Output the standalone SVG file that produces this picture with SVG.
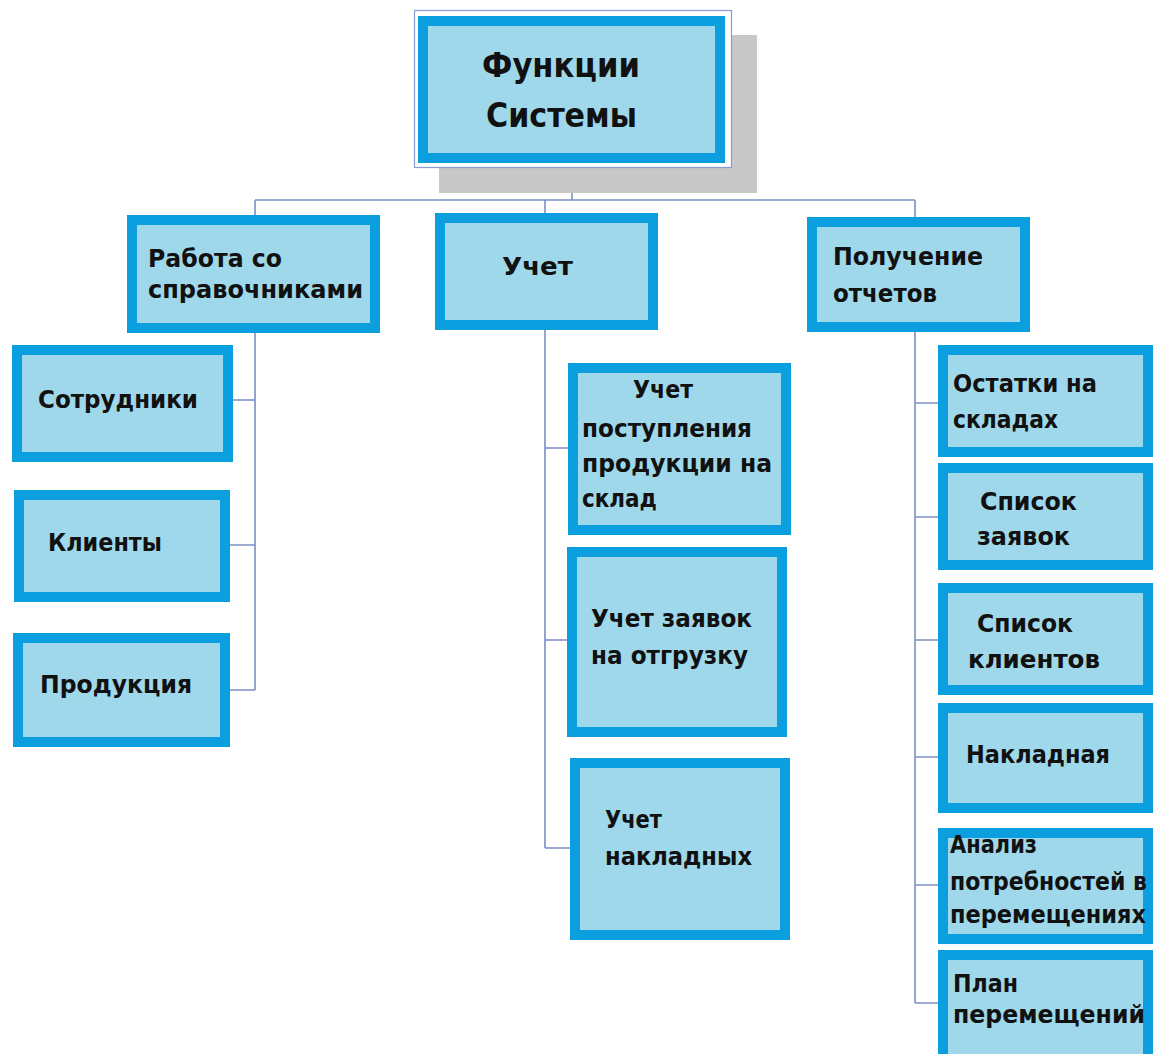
<svg xmlns="http://www.w3.org/2000/svg" width="1153" height="1054" viewBox="0 0 1153 1054">
<style>
.box{fill:#9fd8ea;stroke:#0c9fe0;stroke-width:10}
.t{font-family:"DejaVu Sans","Liberation Sans",sans-serif;font-weight:bold;font-size:25px;fill:#111}
.tt{font-size:34px}
.c{fill:none;stroke:#7d8fc2;stroke-width:1.6}
</style>
<rect width="1153" height="1054" fill="#fff"/>
<g id="connectors">
<path class="c" d="M572,163V200M255,200H915M255,200V690M545,200V848M915,200V1003"/>
<path class="c" d="M233,400H255M230,545H255M230,690H255"/>
<path class="c" d="M545,448H568M545,640H567M545,848H570"/>
<path class="c" d="M915,403H938M915,517H938M915,640H938M915,757H938M915,885H938M915,1003H938"/>
</g>
<g id="n-root">
<rect x="439" y="35" width="318" height="158" fill="#c8c8c8"/>
<rect x="414.5" y="10.5" width="317" height="157" fill="#fff" stroke="#8a9bd0" stroke-width="1.2"/>
<rect class="box" x="423" y="21" width="297" height="137"/>
<text class="t tt" x="482" y="77" textLength="158" lengthAdjust="spacingAndGlyphs">Функции</text>
<text class="t tt" x="486" y="127" textLength="151" lengthAdjust="spacingAndGlyphs">Системы</text>
</g>
<g id="n-spr">
<rect class="box" x="132" y="220" width="243" height="108"/>
<text class="t" x="148" y="267" textLength="134" lengthAdjust="spacingAndGlyphs">Работа со</text>
<text class="t" x="148" y="298" textLength="215" lengthAdjust="spacingAndGlyphs">справочниками</text>
</g>
<g id="n-uchet">
<rect class="box" x="440" y="218" width="213" height="107"/>
<text class="t" x="502" y="275" textLength="71" lengthAdjust="spacingAndGlyphs">Учет</text>
</g>
<g id="n-otch">
<rect class="box" x="812" y="222" width="213" height="105"/>
<text class="t" x="833" y="265" textLength="150" lengthAdjust="spacingAndGlyphs">Получение</text>
<text class="t" x="833" y="302" textLength="104" lengthAdjust="spacingAndGlyphs">отчетов</text>
</g>
<g id="n-sotr">
<rect class="box" x="17" y="350" width="211" height="107"/>
<text class="t" x="38" y="408" textLength="160" lengthAdjust="spacingAndGlyphs">Сотрудники</text>
</g>
<g id="n-kli">
<rect class="box" x="19" y="495" width="206" height="102"/>
<text class="t" x="48" y="551" textLength="114" lengthAdjust="spacingAndGlyphs">Клиенты</text>
</g>
<g id="n-prod">
<rect class="box" x="18" y="638" width="207" height="104"/>
<text class="t" x="40" y="693" textLength="152" lengthAdjust="spacingAndGlyphs">Продукция</text>
</g>
<g id="n-post">
<rect class="box" x="573" y="368" width="213" height="162"/>
<text class="t" x="633" y="398" textLength="60" lengthAdjust="spacingAndGlyphs">Учет</text>
<text class="t" x="582" y="437" textLength="170" lengthAdjust="spacingAndGlyphs">поступления</text>
<text class="t" x="582" y="472" textLength="190" lengthAdjust="spacingAndGlyphs">продукции на</text>
<text class="t" x="582" y="507" textLength="75" lengthAdjust="spacingAndGlyphs">склад</text>
</g>
<g id="n-zay">
<rect class="box" x="572" y="552" width="210" height="180"/>
<text class="t" x="591" y="627" textLength="161" lengthAdjust="spacingAndGlyphs">Учет заявок</text>
<text class="t" x="591" y="664" textLength="157" lengthAdjust="spacingAndGlyphs">на отгрузку</text>
</g>
<g id="n-nakl">
<rect class="box" x="575" y="763" width="210" height="172"/>
<text class="t" x="605" y="828" textLength="57" lengthAdjust="spacingAndGlyphs">Учет</text>
<text class="t" x="605" y="865" textLength="147" lengthAdjust="spacingAndGlyphs">накладных</text>
</g>
<g id="n-ost">
<rect class="box" x="943" y="350" width="205" height="102"/>
<text class="t" x="953" y="392" textLength="144" lengthAdjust="spacingAndGlyphs">Остатки на</text>
<text class="t" x="953" y="428" textLength="105" lengthAdjust="spacingAndGlyphs">складах</text>
</g>
<g id="n-spz">
<rect class="box" x="943" y="468" width="205" height="97"/>
<text class="t" x="980" y="510" textLength="97" lengthAdjust="spacingAndGlyphs">Список</text>
<text class="t" x="977" y="545" textLength="93" lengthAdjust="spacingAndGlyphs">заявок</text>
</g>
<g id="n-spk">
<rect class="box" x="943" y="588" width="205" height="102"/>
<text class="t" x="977" y="632" textLength="96" lengthAdjust="spacingAndGlyphs">Список</text>
<text class="t" x="968" y="668" textLength="132" lengthAdjust="spacingAndGlyphs">клиентов</text>
</g>
<g id="n-nak">
<rect class="box" x="943" y="708" width="205" height="100"/>
<text class="t" x="966" y="763" textLength="144" lengthAdjust="spacingAndGlyphs">Накладная</text>
</g>
<g id="n-anal">
<rect class="box" x="943" y="833" width="205" height="106"/>
<text class="t" x="950" y="853" textLength="87" lengthAdjust="spacingAndGlyphs">Анализ</text>
<text class="t" x="950" y="890" textLength="197" lengthAdjust="spacingAndGlyphs">потребностей в</text>
<text class="t" x="950" y="923" textLength="196" lengthAdjust="spacingAndGlyphs">перемещениях</text>
</g>
<g id="n-plan">
<rect class="box" x="943" y="955" width="205" height="105"/>
<text class="t" x="953" y="992" textLength="65" lengthAdjust="spacingAndGlyphs">План</text>
<text class="t" x="953" y="1023" textLength="192" lengthAdjust="spacingAndGlyphs">перемещений</text>
</g>
</svg>
